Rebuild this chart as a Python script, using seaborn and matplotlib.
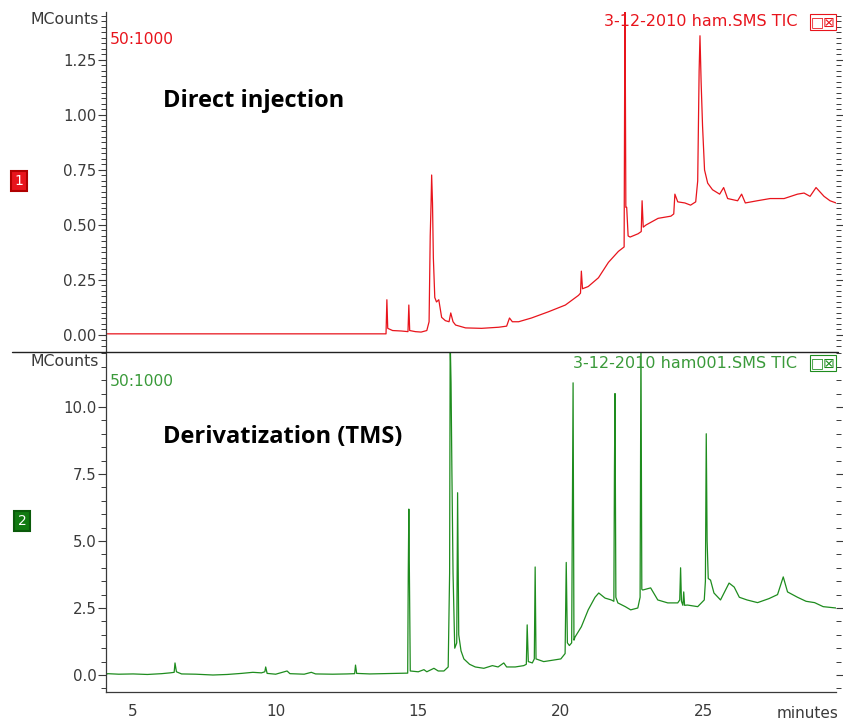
"""
Chromatogram comparison: direct injection vs. TMS derivatization (TIC traces).
Writes out.png
"""

import matplotlib.pyplot as plt
import seaborn as sns
from matplotlib.lines import Line2D
from matplotlib.ticker import FormatStrFormatter, MultipleLocator

sns.set_style("white")
plt.rcParams["font.family"] = ["DejaVu Sans"]

# --- trace 1: ham.SMS TIC (direct injection), MCounts vs minutes ---
red_time = [4.05, 6.0, 8.0, 10.0, 12.0, 13.87, 13.90, 13.93, 14.1, 14.4, 14.64, 14.67,
            14.70, 14.9, 15.1, 15.3, 15.38, 15.42, 15.45, 15.47, 15.50, 15.53, 15.58,
            15.64, 15.72, 15.82, 15.95, 16.08, 16.14, 16.22, 16.31, 16.66, 17.22, 17.82,
            18.1, 18.2, 18.3, 18.52, 18.97, 19.56, 20.16, 20.62, 20.69, 20.72, 20.76,
            20.96, 21.32, 21.67, 22.02, 22.22, 22.25, 22.28, 22.31, 22.36, 22.43, 22.71,
            22.82, 22.85, 22.89, 22.99, 23.41, 23.86, 23.96, 24.0, 24.1, 24.35, 24.55,
            24.73, 24.80, 24.85, 24.88, 24.92, 24.97, 25.04, 25.15, 25.32, 25.57, 25.71,
            25.85, 26.2, 26.34, 26.47, 26.89, 27.34, 27.83, 28.3, 28.53, 28.74, 28.95,
            29.23, 29.44, 29.65]
red_mcounts = [0.005, 0.005, 0.005, 0.005, 0.005, 0.005, 0.16, 0.03, 0.02, 0.018, 0.015, 0.136,
               0.02, 0.015, 0.013, 0.02, 0.06, 0.45, 0.60, 0.727, 0.60, 0.35, 0.17,
               0.15, 0.16, 0.08, 0.065, 0.06, 0.10, 0.06, 0.045, 0.032, 0.03, 0.035,
               0.04, 0.077, 0.06, 0.06, 0.077, 0.105, 0.136, 0.18, 0.19, 0.29, 0.21,
               0.22, 0.26, 0.33, 0.38, 0.40, 1.60, 0.58, 0.58, 0.45, 0.445, 0.46,
               0.47, 0.61, 0.49, 0.50, 0.53, 0.54, 0.55, 0.64, 0.605, 0.60, 0.59,
               0.605, 0.70, 1.20, 1.36, 1.15, 0.95, 0.75, 0.69, 0.66, 0.64, 0.67,
               0.62, 0.61, 0.64, 0.60, 0.61, 0.62, 0.62, 0.64, 0.645, 0.63, 0.67,
               0.63, 0.61, 0.60]

# --- trace 2: ham001.SMS TIC (TMS derivatization) ---
green_time = [4.05, 4.1, 4.5, 5.0, 5.5, 6.0, 6.3, 6.44, 6.47, 6.52, 6.7, 7.2, 7.8, 8.3,
              8.8, 9.2, 9.5, 9.62, 9.65, 9.7, 10.0, 10.4, 10.5, 11.0, 11.25, 11.4, 12.0,
              12.5, 12.77, 12.8, 12.84, 13.3, 13.8, 14.3, 14.63, 14.65, 14.67, 14.69,
              14.72, 15.0, 15.2, 15.3, 15.55, 15.7, 15.9, 16.05, 16.10, 16.12, 16.15,
              16.18, 16.22, 16.28, 16.35, 16.38, 16.42, 16.5, 16.6, 16.8, 17.0, 17.3,
              17.6, 17.8, 18.0, 18.1, 18.4, 18.7, 18.79, 18.82, 18.86, 19.0, 19.07,
              19.1, 19.13, 19.4, 19.7, 20.0, 20.15, 20.19, 20.23, 20.3, 20.38, 20.41,
              20.43, 20.46, 20.5, 20.72, 20.96, 21.2, 21.33, 21.55, 21.77, 21.86, 21.88,
              21.9, 21.93, 22.0, 22.26, 22.45, 22.7, 22.78, 22.81, 22.84, 22.87, 23.15,
              23.4, 23.75, 24.1, 24.17, 24.2, 24.23, 24.28, 24.31, 24.34, 24.44, 24.8,
              25.03, 25.07, 25.1, 25.13, 25.17, 25.25, 25.37, 25.6, 25.9, 26.08, 26.26,
              26.53, 26.9, 27.3, 27.6, 27.8, 27.95, 28.3, 28.6, 28.9, 29.2, 29.65]
green_mcounts = [0.0, 0.05, 0.03, 0.04, 0.02, 0.05, 0.08, 0.1, 0.45, 0.12, 0.04, 0.03, 0.0, 0.02,
                 0.06, 0.1, 0.08, 0.12, 0.3, 0.06, 0.03, 0.15, 0.05, 0.03, 0.1, 0.04, 0.03,
                 0.04, 0.05, 0.37, 0.06, 0.04, 0.05, 0.06, 0.07, 3.8, 6.19, 3.8,
                 0.15, 0.12, 0.2, 0.12, 0.25, 0.15, 0.15, 0.3, 3.8, 12.5, 10.9,
                 7.6, 3.8, 1.0, 1.2, 6.8, 1.5, 0.9, 0.6, 0.4, 0.3, 0.25,
                 0.35, 0.3, 0.45, 0.3, 0.3, 0.35, 0.4, 1.87, 0.5, 0.45, 0.6,
                 4.03, 0.6, 0.5, 0.55, 0.6, 0.8, 4.2, 1.2, 1.1, 1.2, 7.05,
                 10.9, 1.3, 1.42, 1.8, 2.43, 2.9, 3.06, 2.87, 2.8, 2.75, 7.6,
                 10.5, 2.9, 2.69, 2.55, 2.43, 2.5, 2.9, 12.5, 3.2, 3.17, 3.25,
                 2.8, 2.69, 2.69, 2.8, 4.0, 2.75, 2.6, 3.1, 2.6, 2.61, 2.55,
                 2.8, 3.5, 9.0, 5.0, 3.6, 3.54, 3.06, 2.8, 3.43, 3.28, 2.9,
                 2.8, 2.7, 2.85, 3.0, 3.66, 3.1, 2.9, 2.75, 2.7, 2.55, 2.5]

RED = "#e8141c"
GREEN = "#1e8c1e"
GREEN_TXT = "#3a9a3a"
GREY = "#3a3a3a"
W, H = 843, 723


def fx(x):
    return x / W


def fy(y):
    return 1 - y / H


fig = plt.figure(figsize=(8.43, 7.23), dpi=100)
left, right = 106, 836
ax_top = fig.add_axes([fx(left), fy(351), fx(right) - fx(left), fy(12) - fy(351)])
ax_bot = fig.add_axes([fx(left), fy(692), fx(right) - fx(left), fy(352) - fy(692)],
                      sharex=ax_top)

sns.lineplot(x=red_time, y=red_mcounts, ax=ax_top, color=RED, linewidth=0.9,
             estimator=None, sort=False)
sns.lineplot(x=green_time, y=green_mcounts, ax=ax_bot, color=GREEN, linewidth=0.9,
             estimator=None, sort=False)

ax_top.set_ylim(-0.073, 1.468)
ax_bot.set_ylim(-0.634, 12.05)
ax_bot.set_xlim(4.05, 29.65)

for ax, major, minor, fmt in [(ax_top, 0.25, 0.025, "%.2f"), (ax_bot, 2.5, 0.5, "%.1f")]:
    ax.yaxis.set_major_locator(MultipleLocator(major))
    ax.yaxis.set_minor_locator(MultipleLocator(minor))
    ax.yaxis.set_major_formatter(FormatStrFormatter(fmt))
    ax.yaxis.set_ticks_position("both")
    ax.tick_params(axis="y", which="major", length=6, width=0.8, color=GREY,
                   labelsize=10.8, labelcolor=GREY, pad=1, direction="out")
    ax.tick_params(axis="y", which="minor", length=3.5, width=0.7, color=GREY, direction="out")
    for side in ["top", "right"]:
        ax.spines[side].set_visible(False)
    ax.spines["left"].set_color(GREY)
    ax.spines["left"].set_linewidth(0.9)
    ax.set_xlabel("")
    ax.set_ylabel("")

ax_top.spines["bottom"].set_visible(False)
ax_top.tick_params(axis="x", which="both", bottom=False, labelbottom=False)

ax_bot.xaxis.set_major_locator(MultipleLocator(5))
ax_bot.xaxis.set_minor_locator(MultipleLocator(0.5))
ax_bot.tick_params(axis="x", which="major", length=7, width=0.8, color=GREY,
                   labelsize=11, labelcolor=GREY, pad=2, direction="out")
ax_bot.tick_params(axis="x", which="minor", length=3.5, width=0.7, color=GREY,
                   direction="out")
ax_bot.spines["bottom"].set_color(GREY)
ax_bot.spines["bottom"].set_linewidth(0.9)

# separator between the two traces
fig.add_artist(Line2D([fx(12), fx(838)], [fy(351.5), fy(351.5)], color="#222222",
                      linewidth=1.0))

# panel annotations
fig.text(fx(99), fy(20), "MCounts", ha="right", va="center", fontsize=11.3, color=GREY)
fig.text(fx(99), fy(362), "MCounts", ha="right", va="center", fontsize=11.3, color=GREY)
fig.text(fx(110), fy(40), "50:1000", ha="left", va="center", fontsize=11.2, color=RED)
fig.text(fx(110), fy(381), "50:1000", ha="left", va="center", fontsize=11.2, color=GREEN_TXT)
fig.text(fx(797), fy(22), "3-12-2010 ham.SMS TIC", ha="right", va="center",
         fontsize=11.5, color=RED)
fig.text(fx(797), fy(363), "3-12-2010 ham001.SMS TIC", ha="right", va="center",
         fontsize=11.5, color=GREEN_TXT)
fig.text(fx(823), fy(22), "□⊠", ha="center", va="center", fontsize=10, color=RED,
         bbox=dict(boxstyle="square,pad=0.05", facecolor="white", edgecolor=RED, lw=0.8))
fig.text(fx(823), fy(363), "□⊠", ha="center", va="center", fontsize=10, color=GREEN,
         bbox=dict(boxstyle="square,pad=0.05", facecolor="white", edgecolor=GREEN, lw=0.8))

fig.text(fx(19), fy(181), "1", ha="center", va="center", fontsize=10, color="white",
         bbox=dict(boxstyle="square,pad=0.25", facecolor=RED, edgecolor="#b00000", lw=1.5))
fig.text(fx(22), fy(521), "2", ha="center", va="center", fontsize=10, color="white",
         bbox=dict(boxstyle="square,pad=0.25", facecolor="#117a11", edgecolor="#0a5a0a", lw=1.5))

fig.text(fx(163), fy(101), "Direct injection", ha="left", va="center", fontsize=17,
         fontweight="bold", color="black", family="Open Sans")
fig.text(fx(163), fy(437), "Derivatization (TMS)", ha="left", va="center", fontsize=17,
         fontweight="bold", color="black", family="Open Sans")

fig.text(fx(838), fy(714), "minutes", ha="right", va="center", fontsize=11, color=GREY)

fig.savefig("out.png", dpi=100)
plt.close(fig)
